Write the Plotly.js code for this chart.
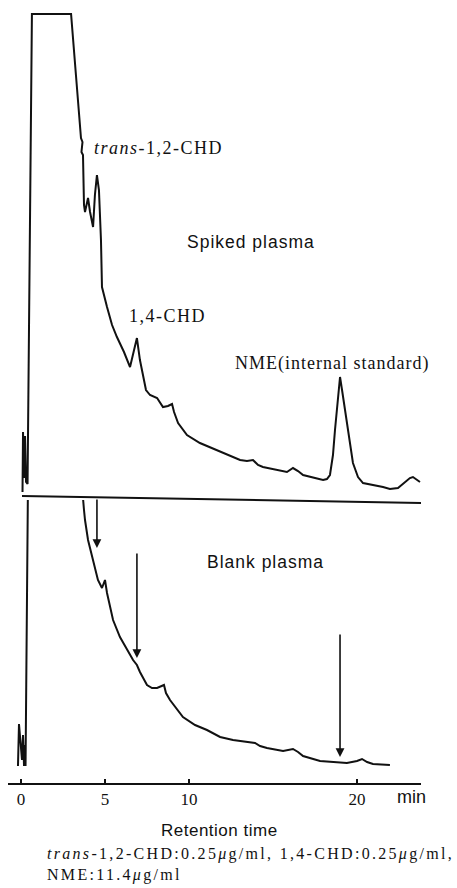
<!DOCTYPE html>
<html>
<head>
<meta charset="utf-8">
<script src="https://cdn.plot.ly/plotly-2.35.2.min.js"></script>
<style>
html,body{margin:0;padding:0;background:#fff;}
#chart{width:457px;height:888px;}
</style>
</head>
<body>
<div id="chart"></div>
<script>
// Retention time (min) and detector response (arbitrary units) — spiked plasma
const timeSpiked = [0.09,0.12,0.18,0.24,0.30,0.39,0.65,2.98,3.27,3.51,3.57,3.66,3.60,3.69,3.75,3.81,3.93,3.99,4.11,4.23,4.29,4.40,4.52,4.64,4.70,4.76,4.82,4.94,5.12,5.42,5.71,6.13,6.49,6.73,6.90,7.08,7.26,7.44,7.68,8.10,8.45,8.75,8.99,9.11,9.35,9.88,10.65,11.67,13.04,13.45,13.81,14.11,14.40,15.83,16.19,16.49,16.79,17.98,18.21,18.39,18.57,18.69,18.87,18.99,19.11,19.29,19.40,19.58,19.76,20.06,20.36,21.55,21.96,22.44,22.74,23.15,23.33,23.57,23.75];
const respSpiked = [1.6,13.6,4.4,12.8,3.6,3.2,97.2,97.2,85,75,72.4,71.6,69.6,69,59,57.6,60,60.4,57.6,55,54.6,61,65,62,58,52,42.6,40.8,38.6,35,32.6,29.6,26.6,30,32.4,28,24.6,22,21,20.4,18.6,18.8,19.2,17.6,15.4,13,11.4,10,8,7.8,8,7,6.6,5.6,6.4,5.8,5,4,4.2,5,9,14,21,24.6,22,18,14.6,11,7.4,4.6,3.4,2.6,2.2,2.4,3.2,4.4,4.6,4,3.6];

// Blank plasma (solvent front runs off scale)
const timeBlank = [-0.18,-0.12,0.06,0.12,0.18,0.24,0.27,0.42,3.69,3.69,3.75,3.81,3.99,4.29,4.58,4.82,4.94,5.00,5.12,5.48,5.89,6.31,6.67,6.90,7.08,7.50,7.80,8.10,8.51,8.63,8.87,9.64,10.36,11.07,11.85,12.62,13.63,13.93,14.23,14.64,15.60,16.19,16.49,16.79,17.80,19.40,20.00,20.30,20.60,20.95,21.96];
const respBlank = [3.4,11.8,4.6,9.6,3.4,7.6,3.4,62,62,57,54.6,52.6,48.6,44.6,40.6,39,40.2,40.6,38,32.6,29.2,26.6,24.6,23.6,22.2,19.6,19,19,19.6,18,16.6,13.2,11.6,10.6,9.2,8.6,8.2,8,7.4,7,6.4,6.8,6.2,5.4,4.4,4,4.4,4.8,4.2,3.8,3.6];

// Arrows marking the analyte retention times on the blank trace
const arrowTimes = [4.52, 6.90, 18.99];
const arrowFrom  = [57, 46.2, 30];
const arrowTo    = [47, 25, 5.2];

// Axis ticks
const tickVals = [0, 5, 10, 20];
const tickText = ['0', '5', '10', '20'];

const serif = 'Liberation Serif, Times New Roman, serif';
const sans = 'Liberation Sans, Arial, sans-serif';
const ink = '#111';

const traces = [
  {x: timeSpiked, y: respSpiked, xaxis: 'x', yaxis: 'y2', type: 'scatter', mode: 'lines',
   line: {color: ink, width: 2}, hoverinfo: 'skip'},
  {x: timeBlank, y: respBlank, xaxis: 'x', yaxis: 'y', type: 'scatter', mode: 'lines',
   line: {color: ink, width: 2}, hoverinfo: 'skip'}
];

const ls = (t, sp) => '<span style="letter-spacing:' + sp + 'px">' + t + '</span>';

const annotations = [
  {xref: 'x', yref: 'y2', x: 4.23, y: 70.4, xanchor: 'left', yanchor: 'middle', showarrow: false,
   text: ls('<i>trans</i>-1,2-CHD', 1.5), font: {family: serif, size: 18, color: ink}},
  {xref: 'x', yref: 'y2', x: 13.69, y: 51.6, xanchor: 'center', yanchor: 'middle', showarrow: false,
   text: ls('Spiked plasma', 1), font: {family: sans, size: 17.5, color: ink}},
  {xref: 'x', yref: 'y2', x: 8.72, y: 36.8, xanchor: 'center', yanchor: 'middle', showarrow: false,
   text: ls('1,4-CHD', 1.5), font: {family: serif, size: 18, color: ink}},
  {xref: 'x', yref: 'y2', x: 18.54, y: 27.3, xanchor: 'center', yanchor: 'middle', showarrow: false,
   text: ls('NME(internal standard)', 1), font: {family: serif, size: 18, color: ink}},
  {xref: 'x', yref: 'y', x: 14.58, y: 44.2, xanchor: 'center', yanchor: 'middle', showarrow: false,
   text: ls('Blank plasma', 1), font: {family: sans, size: 17.5, color: ink}},
  {xref: 'paper', yref: 'paper', x: 0.978, y: -0.0179, xanchor: 'center', yanchor: 'middle', showarrow: false,
   text: 'min', font: {family: sans, size: 18, color: ink}},
  {xref: 'paper', yref: 'paper', x: 0.513, y: -0.0613, xanchor: 'center', yanchor: 'middle', showarrow: false,
   text: ls('Retention time', 0.5), font: {family: sans, size: 17, color: ink}},
  {xref: 'paper', yref: 'paper', x: 0.0896, y: -0.0907, xanchor: 'left', yanchor: 'middle', showarrow: false,
   text: ls('<i>trans</i>-1,2-CHD:0.25<i>μ</i>g/ml, 1,4-CHD:0.25<i>μ</i>g/ml,', 2.3), font: {family: serif, size: 16, color: ink}},
  {xref: 'paper', yref: 'paper', x: 0.0896, y: -0.1175, xanchor: 'left', yanchor: 'middle', showarrow: false,
   text: ls('NME:11.4<i>μ</i>g/ml', 2.3), font: {family: serif, size: 16, color: ink}}
];

arrowTimes.forEach((t, i) => {
  annotations.push({
    xref: 'x', yref: 'y', axref: 'x', ayref: 'y',
    x: t, y: arrowTo[i], ax: t, ay: arrowFrom[i],
    text: '', showarrow: true, arrowhead: 2, arrowsize: 1.1, arrowwidth: 1.6,
    arrowcolor: ink, standoff: 0, startstandoff: 0
  });
});

const layout = {
  width: 457, height: 888,
  margin: {l: 8, r: 36, t: 0, b: 105},
  paper_bgcolor: '#fff', plot_bgcolor: '#fff',
  showlegend: false,
  xaxis: {
    range: [-0.774, 23.81], tickvals: tickVals, ticktext: tickText,
    ticks: 'inside', ticklen: 4, tickwidth: 1.5, tickcolor: ink,
    showline: true, linewidth: 2, linecolor: ink,
    showgrid: false, zeroline: false, anchor: 'y',
    tickfont: {family: serif, size: 17, color: ink}, fixedrange: true
  },
  yaxis: {domain: [0, 0.3614], range: [0, 56.6], visible: false, fixedrange: true},
  yaxis2: {domain: [0.3614, 1], range: [0, 100], visible: false, fixedrange: true, anchor: 'x'},
  shapes: [
    {type: 'line', xref: 'paper', yref: 'paper', x0: 0.0339, y0: 0.3665, x1: 1.0, y1: 0.3576,
     line: {color: ink, width: 2}}
  ],
  annotations: annotations
};

Plotly.newPlot('chart', traces, layout, {displayModeBar: false, staticPlot: true});
</script>
</body>
</html>
